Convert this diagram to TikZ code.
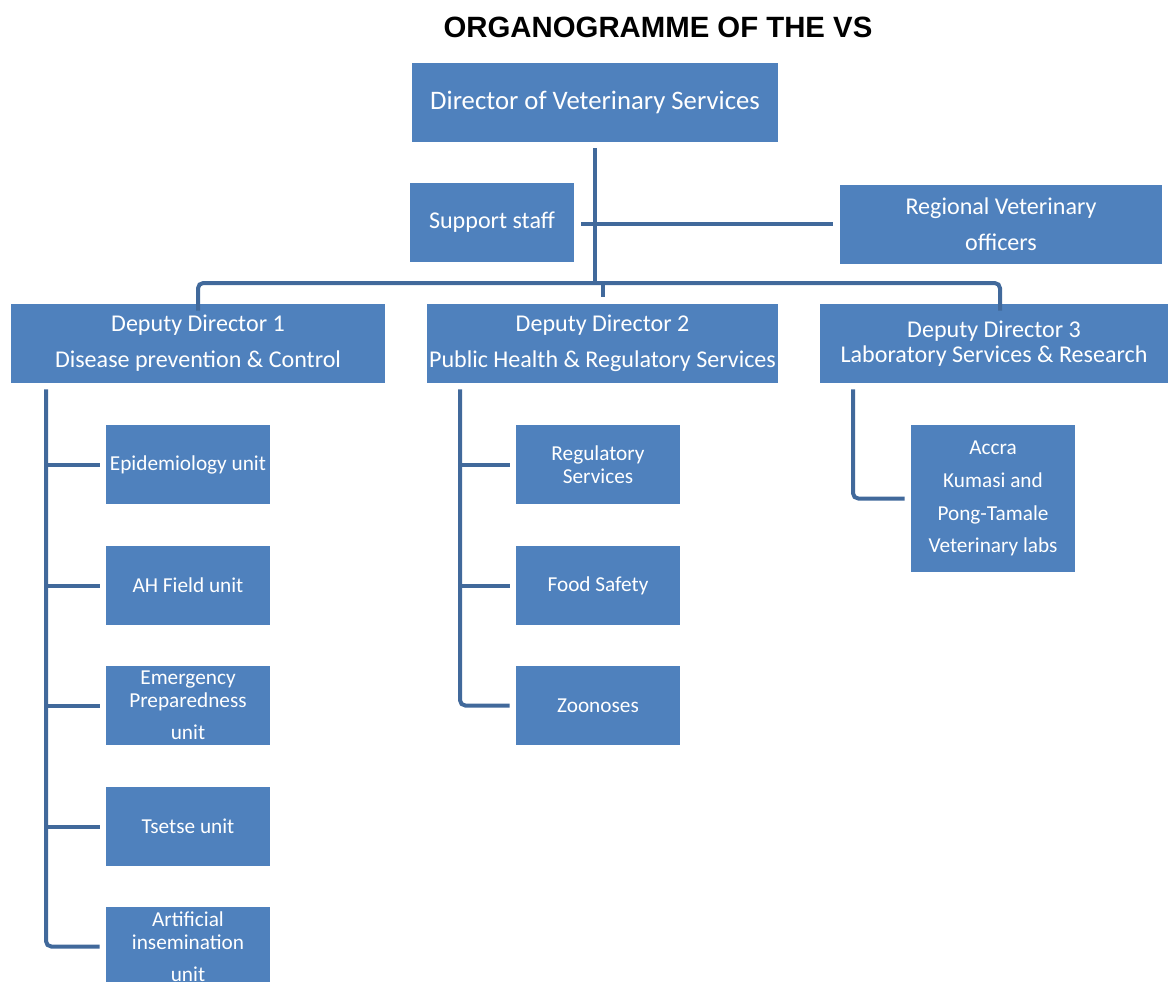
\documentclass[tikz,border=0pt]{standalone}
\usepackage{fontspec}
\setmainfont{Carlito}
\newfontfamily\titlefont{Liberation Sans}
\usetikzlibrary{positioning}
\definecolor{boxblue}{HTML}{4F81BD}
\definecolor{lineblue}{HTML}{41699B}
\tikzset{
  unitbox/.style={rectangle,fill=boxblue,text=white,align=center,minimum width=164*0.02cm,minimum height=79*0.02cm,inner sep=0pt,font=\fontsize{12.1}{13.1}\selectfont},
  headbox/.style={unitbox,font=\fontsize{13.7}{20.4}\selectfont},
  link/.style={draw=lineblue,line width=0.08cm}
}
\begin{document}
\begin{tikzpicture}[x=0.02cm,y=-0.02cm]
			\useasboundingbox (0,0) rectangle (1168,981);
			
			% Title
			\node (title) at (658,27) {\titlefont\bfseries\fontsize{16.7}{19}\selectfont ORGANOGRAMME OF THE VS};
			
			% Top level
			\node[headbox,minimum width=366*0.02cm,font=\fontsize{15.2}{17}\selectfont] (dir) at (595,102.5) {Director of Veterinary Services};
			\node[headbox] (sup) at (492,222.5) {Support staff};
			\node[headbox,minimum width=322*0.02cm] (reg) at (1001,224.5) {Regional Veterinary\\officers};
			
			% Deputy directors
			\node[headbox,minimum width=374*0.02cm] (dd1) at (198,343.5) {Deputy Director 1\\Disease prevention \& Control};
			\node[headbox,minimum width=351*0.02cm] (dd2) at (602.5,343.5) {Deputy Director 2\\Public Health \& Regulatory Services};
			\node[headbox,minimum width=348*0.02cm,font=\fontsize{13.7}{14.2}\selectfont] (dd3) at (994,343.5) {Deputy Director 3\\Laboratory Services \& Research};
			
			% Units under DD1
			\node[unitbox] (epi) at (188,464.5) {Epidemiology unit};
			\node[unitbox] (ahf) at (188,585.5) {AH Field unit};
			\node[unitbox] (emg) at (188,705.5) {Emergency\\Preparedness\\[5pt]unit};
			\node[unitbox] (tse) at (188,826.5) {Tsetse unit};
			\node[unitbox] (art) at (188,946.5) {Artificial\\insemination\\[5pt]unit};
			
			% Units under DD2
			\node[unitbox] (reglt) at (598,464.5) {Regulatory\\Services};
			\node[unitbox] (food) at (598,585.5) {Food Safety};
			\node[unitbox] (zoo) at (598,705.5) {Zoonoses};
			
			% Unit under DD3
			\node[unitbox,minimum height=147*0.02cm,font=\fontsize{12.1}{18.7}\selectfont] (labs) at (993,498.5) {Accra\\Kumasi and\\Pong-Tamale\\Veterinary labs};
			
			% Connectors, top
			\coordinate (bus) at (595,283);
			\draw[link] ([yshift=-6*0.02cm]dir.south) -- (bus);
			\draw[link] ([xshift=7*0.02cm,yshift=-1.5*0.02cm]sup.east) -- ([xshift=-7*0.02cm,yshift=-1.5*0.02cm]sup.east -| reg.west);
			\draw[link,rounded corners=3pt] ([yshift=-7*0.02cm]dd1.north) |- (bus) -| ([yshift=-7*0.02cm,xshift=6*0.02cm]dd3.north);
			\draw[link] (dd2.north) ++(0,-7) -- ++(0,-14);
			
			% Connectors, DD1
			\draw[link,rounded corners=3pt] ([xshift=-152*0.02cm,yshift=-6*0.02cm]dd1.south) |- ([xshift=-6*0.02cm]art.west);
			\foreach \u in {epi,ahf,emg,tse}
				\draw[link] ([xshift=-60*0.02cm]\u.west) -- ([xshift=-6*0.02cm]\u.west);
			
			% Connectors, DD2
			\draw[link,rounded corners=3pt] ([xshift=-142.5*0.02cm,yshift=-6*0.02cm]dd2.south) |- ([xshift=-6*0.02cm]zoo.west);
			\foreach \u in {reglt,food}
				\draw[link] ([xshift=-56*0.02cm]\u.west) -- ([xshift=-6*0.02cm]\u.west);
			
			% Connector, DD3
			\draw[link,rounded corners=3pt] ([xshift=-141*0.02cm,yshift=-6*0.02cm]dd3.south) |- ([xshift=-6*0.02cm]labs.west);
			
		\end{tikzpicture}
\end{document}
